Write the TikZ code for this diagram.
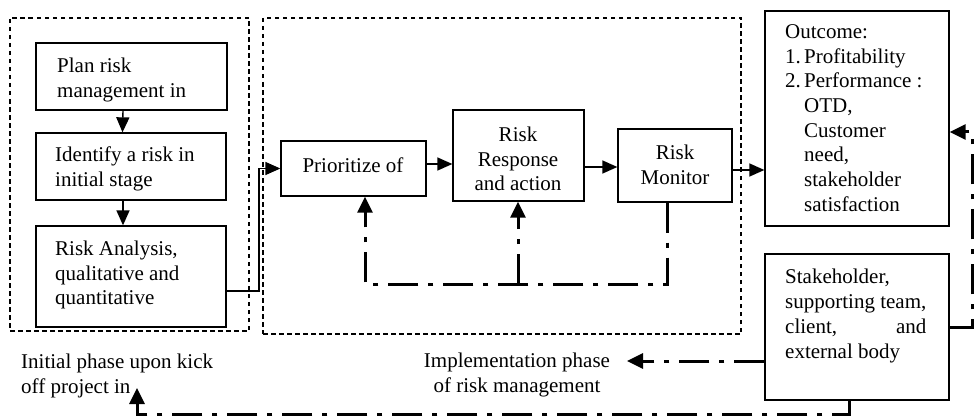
\documentclass[tikz,border=0pt]{standalone}
\usepackage{fontspec}
\setmainfont{Liberation Serif}
\usepackage{calc}
\usetikzlibrary{arrows.meta}
\begin{document}
\begin{tikzpicture}[x=1pt,y=-1pt,
  boxn/.style={draw, line width=1.3pt, rectangle, inner sep=0pt},
  phasebox/.style={draw, line width=1.1pt, dash pattern=on 4.5pt off 3.5pt, rectangle, inner sep=0pt},
  txt/.style={font=\fontsize{21}{24.7}\selectfont, inner sep=0pt, align=left},
  ctxt/.style={font=\fontsize{21}{24.7}\selectfont, inner sep=0pt, align=center},
  thinarr/.style={line width=1.4pt, -{Triangle[length=15pt,width=13pt]}},
  dd/.style={line width=3pt, dash pattern=on 30pt off 10pt on 5pt off 10pt},
  ddarr/.style={dd, -{Triangle[length=16pt,width=15pt]}}
]
\useasboundingbox (0,0) rectangle (974,417);

% phase frames
\node[phasebox, minimum width=239pt, minimum height=313pt] (phaseA) at (129.5,174.5) {};
\node[phasebox, minimum width=478pt, minimum height=316pt] (phaseB) at (502,176) {};

% boxes
\node[boxn, minimum width=191pt, minimum height=67pt] (b1) at (131.5,76.5) {};
\node[boxn, minimum width=190pt, minimum height=67pt] (b2) at (131,166.5) {};
\node[boxn, minimum width=190pt, minimum height=101pt] (b3) at (131,276.5) {};
\node[boxn, minimum width=145pt, minimum height=55pt] (prior) at (353.5,168.5) {};
\node[boxn, minimum width=131pt, minimum height=91pt] (resp) at (518.5,155.5) {};
\node[boxn, minimum width=114pt, minimum height=73pt] (mon) at (675,165.5) {};
\node[boxn, minimum width=184pt, minimum height=215pt] (out) at (857,118.5) {};
\node[boxn, minimum width=184pt, minimum height=146pt] (stake) at (857,327) {};

% texts
\node[txt, anchor=west] (t1) at (57,79.75) {Plan risk\\management in};
\node[txt, anchor=west] (t2) at (55,169) {Identify a risk in\\initial stage};
\node[txt, anchor=west] (t3) at (55,275) {Risk Analysis,\\qualitative and\\quantitative};
\node[ctxt, anchor=base] (tprior) at (353,172) {Prioritize of};
\node[ctxt] (tresp) at (518,159) {Risk\\Response\\and action};
\node[ctxt] (tmon) at (675,165) {Risk\\Monitor};
\node[txt, anchor=west] (tout) at (785,118) {Outcome:\\
  \makebox[19pt][l]{1.}Profitability\\
  \makebox[19pt][l]{2.}Performance :\\
  \hspace*{19pt}OTD,\\
  \hspace*{19pt}Customer\\
  \hspace*{19pt}need,\\
  \hspace*{19pt}stakeholder\\
  \hspace*{19pt}satisfaction};
\node[txt, anchor=west] (tstake) at (785,316) {Stakeholder,\\supporting team,\\
  \makebox[\widthof{supporting team,}][s]{client,\hfill and}\\external body};
\node[txt, anchor=west] (tinit) at (21,376) {Initial phase upon kick\\off project in};
\node[ctxt] (timpl) at (517,375) {Implementation phase\\of risk management};

% thin connectors
\draw[thinarr] ([xshift=-8.5pt]b1.south) -- ([xshift=-8.5pt]b2.north);
\draw[thinarr] ([xshift=-8pt]b2.south) -- ([xshift=-8pt]b3.north);
\coordinate (k1) at (259,291);
\draw[thinarr] (b3.east |- k1) -- (k1) |- (prior.west);
\coordinate (y164) at (0,164);
\coordinate (y167) at (0,167);
\coordinate (y170) at (0,170);
\draw[thinarr] (prior.east |- y164) -- (resp.west |- y164);
\draw[thinarr] (resp.east |- y167) -- (mon.west |- y167);
\draw[thinarr] (mon.east |- y170) -- (out.west |- y170);

% feedback loop
\coordinate (f1) at (667,284);
\coordinate (f2) at (365,284);
\coordinate (f3) at (518,284);
\draw[ddarr] (mon.south -| f1) -- (f1) -- (f2) -- (prior.south -| f2);
\draw[ddarr] (f3) -- (resp.south -| f3);

% stakeholder to outcome
\coordinate (g1) at (972,327);
\coordinate (g2) at (972,132);
\draw[ddarr] (stake.east) -- (g1) -- (g2) -- (out.east |- g2);

% stakeholder to implementation
\coordinate (implTip) at (627,361);
\draw[ddarr] (stake.west |- implTip) -- (implTip);

% stakeholder to initial phase
\coordinate (h1) at (849,414);
\coordinate (h2) at (137,414);
\coordinate (initTip) at (137,388);
\draw[ddarr] (stake.south -| h1) -- (h1) -- (h2) -- (initTip);
\end{tikzpicture}
\end{document}
